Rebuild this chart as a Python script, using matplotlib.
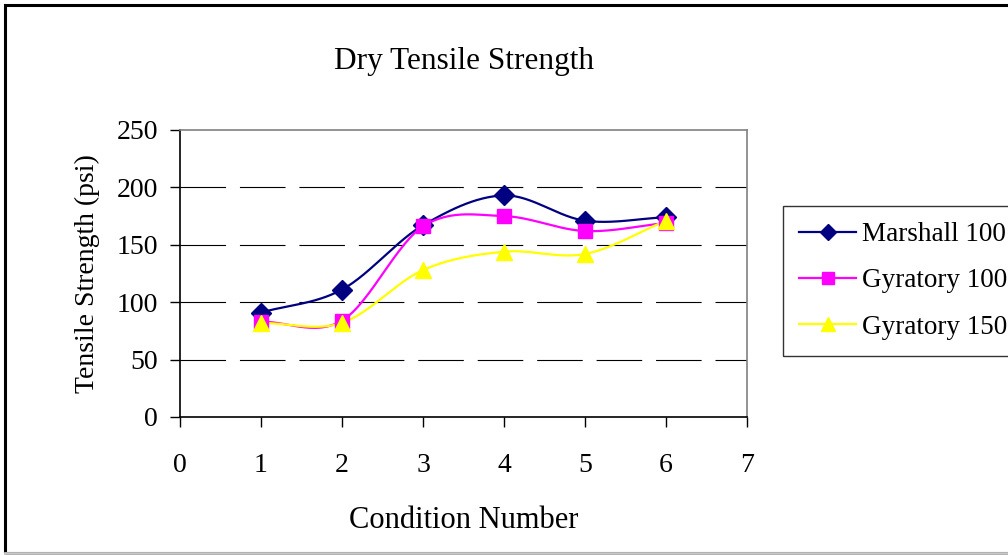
import numpy as np
import matplotlib
matplotlib.use("Agg")
import matplotlib.pyplot as plt
from matplotlib.patches import Rectangle

conditions = [1, 2, 3, 4, 5, 6]
marshall_100 = [91, 111, 167, 193, 171, 174]
gyratory_100 = [83, 84, 166, 175, 162, 169]
gyratory_150 = [82, 82, 128, 144, 142, 171]
series_names = ["Marshall 100", "Gyratory 100", "Gyratory 150"]
x_ticks = [0, 1, 2, 3, 4, 5, 6, 7]
y_ticks = [0, 50, 100, 150, 200, 250]

plt.rcParams['font.family'] = ['Liberation Serif', 'DejaVu Serif']


def smooth(x, y, n=30):
    """Catmull-Rom style smoothing of the polyline (like Excel smoothed lines)."""
    x = np.asarray(x, float)
    y = np.asarray(y, float)
    px = np.concatenate([[2 * x[0] - x[1]], x, [2 * x[-1] - x[-2]]])
    py = np.concatenate([[2 * y[0] - y[1]], y, [2 * y[-1] - y[-2]]])
    xs, ys = [], []
    for i in range(1, len(px) - 2):
        t = np.linspace(0, 1, n, endpoint=(i == len(px) - 3))
        for arr, out in ((px, xs), (py, ys)):
            p0, p1, p2, p3 = arr[i - 1], arr[i], arr[i + 1], arr[i + 2]
            out.extend(0.5 * ((2 * p1) + (-p0 + p2) * t
                              + (2 * p0 - 5 * p1 + 4 * p2 - p3) * t ** 2
                              + (-p0 + 3 * p1 - 3 * p2 + p3) * t ** 3))
    return np.array(xs), np.array(ys)


fig = plt.figure(figsize=(10.08, 5.55), dpi=100)
fig.patch.set_facecolor('white')

# outer chart frame
fig.add_artist(Rectangle((5 / 1008, 2 / 555), 1.2, 548 / 555, transform=fig.transFigure,
                         fill=False, edgecolor='black', linewidth=2.2, clip_on=False))
fig.add_artist(plt.Line2D([5 / 1008, 1.0], [2 / 555, 2 / 555], transform=fig.transFigure,
                          color='#c8c8c8', linewidth=2))

ax = fig.add_axes([180 / 1008, (555 - 417) / 555, (747 - 180) / 1008, (417 - 130) / 555])

styles = [
    dict(color='#000080', marker='D', ms=10),
    dict(color='#FF00FF', marker='s', ms=10),
    dict(color='#FFFF00', marker='^', ms=12),
]
data = [marshall_100, gyratory_100, gyratory_150]
handles = []
for vals, name, st in zip(data, series_names, styles):
    sx, sy = smooth(conditions, vals)
    ax.plot(sx, sy, color=st['color'], linewidth=1.6, zorder=3)
    ax.plot(conditions, vals, linestyle='none', marker=st['marker'], ms=st['ms'],
            color=st['color'], zorder=4)
    h, = ax.plot([], [], color=st['color'], linewidth=1.6, marker=st['marker'],
                 ms=st['ms'] * 0.85, label=name)
    handles.append(h)

ax.set_xlim(0, 7)
ax.set_ylim(0, 250)
ax.set_xticks(x_ticks)
ax.set_yticks(y_ticks)
ax.tick_params(axis='both', direction='out', length=7, width=1, labelsize=20,
               color='black')
ax.tick_params(axis='x', pad=19)
ax.tick_params(axis='y', pad=9)
for yv in y_ticks[1:-1]:
    ax.axhline(yv, color='black', linewidth=0.8, dashes=(41, 12.5), zorder=1)

for s in ['left', 'bottom']:
    ax.spines[s].set_color('black')
    ax.spines[s].set_linewidth(1.2)
for s in ['top', 'right']:
    ax.spines[s].set_color('#808080')
    ax.spines[s].set_linewidth(1.2)

ax.set_title('Dry Tensile Strength', fontsize=22.5, pad=44)
ax.set_xlabel('Condition Number', fontsize=22, labelpad=20)
ax.set_ylabel('Tensile Strength (psi)', fontsize=20, labelpad=12)

leg = fig.legend(handles=handles, loc='upper left',
                 bbox_to_anchor=(783 / 1008, (555 - 206) / 555),
                 fontsize=19.5, frameon=True, fancybox=False, shadow=False,
                 handlelength=2.1, handletextpad=0.2, labelspacing=0.78,
                 borderpad=0.6, borderaxespad=0)
leg.get_frame().set_edgecolor('black')
leg.get_frame().set_linewidth(1.0)

fig.savefig('out.png', dpi=100)
